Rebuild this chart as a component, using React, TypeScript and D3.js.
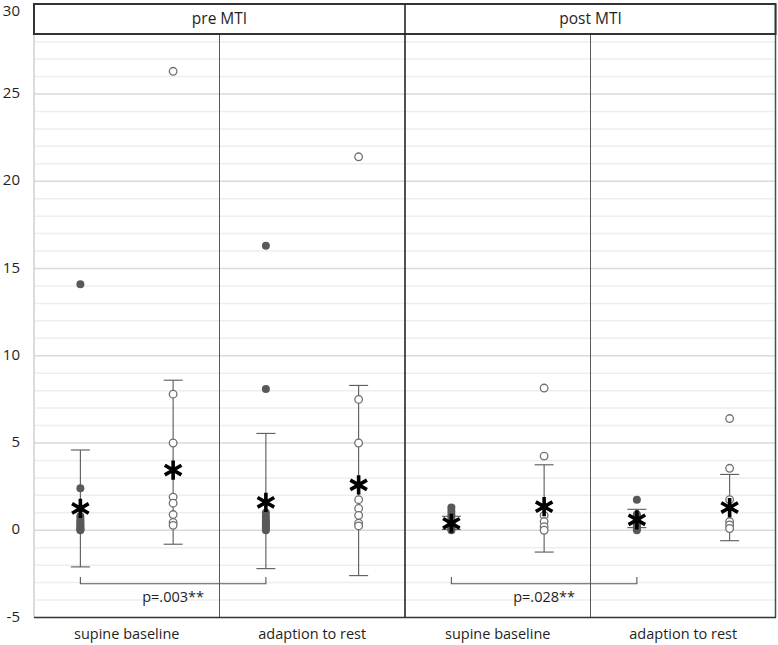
import React, { useEffect, useRef } from 'react';
import * as d3 from 'd3';

// categories along the x axis and the two phases in the header
const categories = ['supine baseline', 'adaption to rest', 'supine baseline', 'adaption to rest'];
const phases = ['pre MTI', 'post MTI'];
const seriesKeys = ['filled', 'open'];

// individual values per category (filled = first series, open = second series)
const filledValues: number[][] = [
  [14.1, 2.4, 0.8, 0.65, 0.5, 0.4, 0.3, 0.2, 0.1, 0.05, 0],
  [16.3, 8.1, 1.0, 0.8, 0.6, 0.5, 0.4, 0.3, 0.2, 0.1, 0],
  [1.3, 1.1, 0.9, 0.7, 0.5, 0.4, 0.3, 0.2, 0.1, 0],
  [1.75, 0.9, 0.7, 0.5, 0.3, 0.2, 0.1, 0],
];
const openValues: number[][] = [
  [26.3, 7.8, 5.0, 1.9, 1.55, 0.9, 0.45, 0.28],
  [21.4, 7.5, 5.0, 1.75, 1.25, 0.85, 0.4, 0.25],
  [8.15, 4.25, 0.85, 0.5, 0.2, 0.0],
  [6.4, 3.55, 1.75, 0.5, 0.3, 0.1],
];

// means and error bar ends, per category
const filledMean = [1.25, 1.6, 0.4, 0.6];
const filledUpper = [4.6, 5.55, 0.8, 1.2];
const filledLower = [-2.1, -2.2, 0.05, 0.15];
const openMean = [3.45, 2.6, 1.35, 1.3];
const openUpper = [8.6, 8.3, 3.75, 3.2];
const openLower = [-0.8, -2.6, -1.25, -0.6];

// significance brackets between filled series of two categories
const bracketFrom = [0, 2];
const bracketTo = [1, 3];
const bracketLabels = ['p=.003**', 'p=.028**'];
const bracketLevel = -3.07;
const bracketTick = -2.68;
const bracketTextLevel = -3.9;

const yTicks = [-5, 0, 5, 10, 15, 20, 25, 30];

const FONT = '"Open Sans", "DejaVu Sans", sans-serif';

const App: React.FC = () => {
  const svgRef = useRef<SVGSVGElement>(null);

  useEffect(() => {
    if (!svgRef.current) return;
    const svg = d3.select(svgRef.current);
    svg.selectAll('*').remove();

    const W = 778;
    const H = 645;
    const left = 34;
    const right = 776;
    const headerTop = 4;

    svg.attr('width', W).attr('height', H);

    const y = d3.scaleLinear().domain([-5, 30]).range([617.5, 6.75]);
    const x = d3.scaleBand<number>().domain(d3.range(categories.length)).range([left, right]).padding(0);
    const xs = d3.scaleBand<string>().domain(seriesKeys).range([0, x.bandwidth()]).padding(0);
    const px = (ci: number, s: string) => (x(ci) as number) + (xs(s) as number) + xs.bandwidth() / 2;

    const headerBottom = 34;
    const bottom = y(-5);

    // horizontal grid
    const gridVals = d3.range(-4, 29);
    svg
      .append('g')
      .selectAll('line')
      .data(gridVals)
      .join('line')
      .attr('x1', left)
      .attr('x2', right)
      .attr('y1', d => y(d))
      .attr('y2', d => y(d))
      .attr('stroke', d => (d % 5 === 0 ? '#d9d9d9' : '#eeeeee'))
      .attr('stroke-width', 1.5);

    // left border (light)
    svg
      .append('line')
      .attr('x1', left)
      .attr('x2', left)
      .attr('y1', headerBottom)
      .attr('y2', bottom)
      .attr('stroke', '#d0d0d0')
      .attr('stroke-width', 1.5);

    // sub dividers between categories inside a phase
    svg
      .append('g')
      .selectAll('line')
      .data([1, 3])
      .join('line')
      .attr('x1', d => x(d) as number)
      .attr('x2', d => x(d) as number)
      .attr('y1', headerBottom)
      .attr('y2', bottom)
      .attr('stroke', '#595959')
      .attr('stroke-width', 1);

    // right border
    svg
      .append('line')
      .attr('x1', right - 0.5)
      .attr('x2', right - 0.5)
      .attr('y1', headerTop)
      .attr('y2', bottom)
      .attr('stroke', '#4d4d4d')
      .attr('stroke-width', 1.5);

    // header box
    svg
      .append('rect')
      .attr('x', left)
      .attr('y', headerTop)
      .attr('width', right - left - 0.5)
      .attr('height', headerBottom - headerTop)
      .attr('fill', 'white')
      .attr('stroke', '#333')
      .attr('stroke-width', 2);

    // phase divider
    const mid = x(2) as number;
    svg
      .append('line')
      .attr('x1', mid)
      .attr('x2', mid)
      .attr('y1', headerTop)
      .attr('y2', bottom)
      .attr('stroke', '#262626')
      .attr('stroke-width', 1.6);

    // phase labels
    svg
      .append('g')
      .selectAll('text')
      .data(phases)
      .join('text')
      .attr('x', (_, i) => ((x(i * 2) as number) + (x(i * 2 + 1) as number) + x.bandwidth()) / 2)
      .attr('y', (headerTop + headerBottom) / 2 + 1)
      .attr('text-anchor', 'middle')
      .attr('dominant-baseline', 'middle')
      .attr('font-family', FONT)
      .attr('font-size', 15.5)
      .attr('fill', '#1f1f1f')
      .text(d => d);

    // bottom axis line
    svg
      .append('line')
      .attr('x1', left)
      .attr('x2', right)
      .attr('y1', bottom)
      .attr('y2', bottom)
      .attr('stroke', '#333')
      .attr('stroke-width', 1.6);

    // y tick labels
    svg
      .append('g')
      .selectAll('text')
      .data(yTicks)
      .join('text')
      .attr('x', 20)
      .attr('y', d => Math.max(y(d), 12))
      .attr('text-anchor', 'end')
      .attr('dominant-baseline', 'middle')
      .attr('font-family', FONT)
      .attr('font-size', 15)
      .attr('fill', '#1f1f1f')
      .text(d => d);

    // category labels
    svg
      .append('g')
      .selectAll('text')
      .data(categories)
      .join('text')
      .attr('x', (_, i) => (x(i) as number) + x.bandwidth() / 2)
      .attr('y', 635)
      .attr('text-anchor', 'middle')
      .attr('dominant-baseline', 'middle')
      .attr('font-family', FONT)
      .attr('font-size', 14.5)
      .attr('fill', '#1f1f1f')
      .text(d => d);

    // error bars
    const errData = [
      ...categories.map((_, i) => ({ cx: px(i, 'filled'), lo: filledLower[i], hi: filledUpper[i] })),
      ...categories.map((_, i) => ({ cx: px(i, 'open'), lo: openLower[i], hi: openUpper[i] })),
    ];
    const capW = 9.5;
    const eg = svg.append('g').attr('stroke', '#595959').attr('stroke-width', 1.1);
    errData.forEach(e => {
      eg.append('line').attr('x1', e.cx).attr('x2', e.cx).attr('y1', y(e.lo)).attr('y2', y(e.hi));
      eg.append('line').attr('x1', e.cx - capW).attr('x2', e.cx + capW).attr('y1', y(e.hi)).attr('y2', y(e.hi));
      eg.append('line').attr('x1', e.cx - capW).attr('x2', e.cx + capW).attr('y1', y(e.lo)).attr('y2', y(e.lo));
    });

    // filled points
    const filledPts = filledValues.flatMap((vals, i) => vals.map(v => ({ cx: px(i, 'filled'), v })));
    svg
      .append('g')
      .selectAll('circle')
      .data(filledPts)
      .join('circle')
      .attr('cx', d => d.cx)
      .attr('cy', d => y(d.v))
      .attr('r', 4)
      .attr('fill', '#595959');

    // open points
    const openPts = openValues.flatMap((vals, i) => vals.map(v => ({ cx: px(i, 'open'), v })));
    svg
      .append('g')
      .selectAll('circle')
      .data(openPts)
      .join('circle')
      .attr('cx', d => d.cx)
      .attr('cy', d => y(d.v))
      .attr('r', 3.8)
      .attr('fill', 'white')
      .attr('stroke', '#707070')
      .attr('stroke-width', 1.3);

    // means as asterisks
    const meanPts = [
      ...filledMean.map((m, i) => ({ cx: px(i, 'filled'), v: m })),
      ...openMean.map((m, i) => ({ cx: px(i, 'open'), v: m })),
    ];
    const star = d3.symbol().type(d3.symbolAsterisk).size(260);
    svg
      .append('g')
      .selectAll('path')
      .data(meanPts)
      .join('path')
      .attr('transform', d => `translate(${d.cx},${y(d.v)})`)
      .attr('d', star() as string)
      .attr('fill', 'none')
      .attr('stroke', '#000')
      .attr('stroke-width', 3.6);

    // significance brackets
    const bg = svg.append('g');
    bracketLabels.forEach((label, k) => {
      const x1 = px(bracketFrom[k], 'filled');
      const x2 = px(bracketTo[k], 'filled');
      const path = d3.path();
      path.moveTo(x1, y(bracketTick));
      path.lineTo(x1, y(bracketLevel));
      path.lineTo(x2, y(bracketLevel));
      path.lineTo(x2, y(bracketTick));
      bg.append('path')
        .attr('d', path.toString())
        .attr('fill', 'none')
        .attr('stroke', '#595959')
        .attr('stroke-width', 1.1);
      bg.append('text')
        .attr('x', (x1 + x2) / 2)
        .attr('y', y(bracketTextLevel))
        .attr('text-anchor', 'middle')
        .attr('dominant-baseline', 'middle')
        .attr('font-family', FONT)
        .attr('font-size', 14.5)
        .attr('fill', '#1f1f1f')
        .text(label);
    });
  }, []);

  return <svg ref={svgRef} style={{ position: 'absolute', left: 0, top: 0 }}></svg>;
};

export default App;
